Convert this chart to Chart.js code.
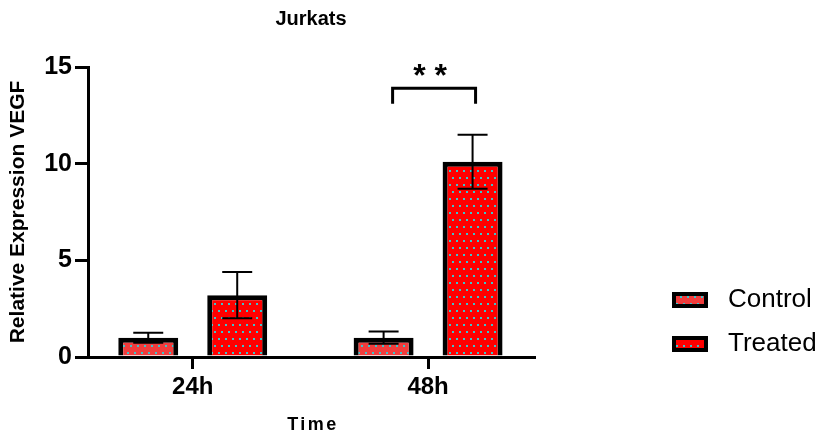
<!DOCTYPE html>
<html>
<head>
<meta charset="utf-8">
<script src="https://cdn.jsdelivr.net/npm/chart.js@4.4.0/dist/chart.umd.min.js"></script>
<style>
  body { margin: 0; background: #fff; }
  #wrap { width: 817px; height: 439px; }
</style>
</head>
<body>
<div id="wrap"><canvas id="vegfChart"></canvas></div>
<script>
// Values
const timeLabels = ['24h', '48h'];
const seriesNames = ['Control', 'Treated'];
const controlMeans = [1.0, 1.0];
const controlErrors = [0.26, 0.32];
const treatedMeans = [3.2, 10.1];
const treatedErrors = [1.2, 1.4];
const yTicks = [0, 5, 10, 15];
const sigIndex = 1;
const sigLabel = '* *';

const FONT = 'Arial, "Liberation Sans", sans-serif';
const canvas = document.getElementById('vegfChart');
const ctx = canvas.getContext('2d');

// red fill with small cyan dots (Prism style)
function dotPattern(base) {
    const tile = document.createElement('canvas');
    tile.width = 7;
    tile.height = 14;
    const c = tile.getContext('2d');
    c.fillStyle = base;
    c.fillRect(0, 0, 7, 14);
    c.fillStyle = '#3cc4cc';
    c.fillRect(1, 2, 2, 2);
    c.fillRect(4, 9, 2, 2);
    return ctx.createPattern(tile, 'repeat');
}

const controlFill = dotPattern('#f03c3c');
const treatedFill = dotPattern('#ff0000');

// mean +/- SD whiskers
const errorBars = {
    id: 'errorBars',
    afterDatasetsDraw(chart) {
        const c = chart.ctx;
        const y = chart.scales.y;
        const errs = [controlErrors, treatedErrors];
        c.save();
        c.strokeStyle = '#000';
        c.lineWidth = 2;
        chart.data.datasets.forEach((ds, di) => {
            chart.getDatasetMeta(di).data.forEach((bar, i) => {
                const mean = ds.data[i].y;
                const top = y.getPixelForValue(mean + errs[di][i]);
                const bot = y.getPixelForValue(mean - errs[di][i]);
                const half = bar.width / 4;
                c.beginPath();
                c.moveTo(bar.x, bot);
                c.lineTo(bar.x, top);
                c.moveTo(bar.x - half, top);
                c.lineTo(bar.x + half, top);
                c.moveTo(bar.x - half, bot);
                c.lineTo(bar.x + half, bot);
                c.stroke();
            });
        });
        c.restore();
    }
};

// significance bracket over the 48h pair
const sigBracket = {
    id: 'sigBracket',
    afterDraw(chart) {
        const c = chart.ctx;
        const y = chart.scales.y;
        const a = chart.getDatasetMeta(0).data[sigIndex];
        const b = chart.getDatasetMeta(1).data[sigIndex];
        const x1 = a.x + 9, x2 = b.x + 3;
        const yTop = y.getPixelForValue(13.9);
        const yLeg = y.getPixelForValue(13.1);
        c.save();
        c.strokeStyle = '#000';
        c.lineWidth = 3;
        c.beginPath();
        c.moveTo(x1, yLeg);
        c.lineTo(x1, yTop);
        c.lineTo(x2, yTop);
        c.lineTo(x2, yLeg);
        c.stroke();
        c.fillStyle = '#000';
        c.font = 'bold 32px ' + FONT;
        c.textAlign = 'center';
        c.textBaseline = 'alphabetic';
        c.fillText(sigLabel, (x1 + x2) / 2 - 4, yTop - 2);
        c.restore();
    }
};

// x title with the letter spacing of the original
const spacedXTitle = {
    id: 'spacedXTitle',
    afterDraw(chart) {
        const c = chart.ctx;
        const area = chart.chartArea;
        c.save();
        c.fillStyle = '#000';
        c.font = 'bold 18px ' + FONT;
        c.letterSpacing = '2.5px';
        c.textAlign = 'center';
        c.textBaseline = 'middle';
        c.fillText('Time', (area.left + area.right) / 2 + 2, 425);
        c.restore();
    }
};

// legend on the right, boxes filled like the bars
const boxLegend = {
    id: 'boxLegend',
    afterDraw(chart) {
        const c = chart.ctx;
        c.save();
        chart.data.datasets.forEach((ds, i) => {
            const cy = 300 + i * 44;
            c.fillStyle = ds.backgroundColor;
            c.fillRect(674, cy - 6, 32, 12);
            c.strokeStyle = '#000';
            c.lineWidth = 4;
            c.strokeRect(674, cy - 6, 32, 12);
            c.fillStyle = '#000';
            c.font = '26px ' + FONT;
            c.textAlign = 'left';
            c.textBaseline = 'middle';
            c.fillText(ds.label, 728, cy);
        });
        c.restore();
    }
};

const barStyle = {
    borderColor: '#000',
    borderWidth: 5,
    categoryPercentage: 0.756,
    barPercentage: 0.674
};

new Chart(ctx, {
    type: 'bar',
    data: {
        datasets: [
            Object.assign({
                label: seriesNames[0],
                data: controlMeans.map((v, i) => ({ x: i, y: v })),
                backgroundColor: controlFill
            }, barStyle),
            Object.assign({
                label: seriesNames[1],
                data: treatedMeans.map((v, i) => ({ x: i, y: v })),
                backgroundColor: treatedFill
            }, barStyle)
        ]
    },
    options: {
        responsive: true,
        maintainAspectRatio: false,
        animation: false,
        layout: { padding: { left: 0, right: 283, top: 0, bottom: 0 } },
        plugins: {
            legend: { display: false },
            tooltip: { enabled: false },
            title: {
                display: true,
                text: 'Jurkats',
                fullSize: false,
                color: '#000',
                font: { family: FONT, size: 20, weight: 'bold' },
                padding: { top: 7, bottom: 36 }
            }
        },
        scales: {
            x: {
                type: 'linear',
                min: -0.445,
                max: 1.45,
                offset: false,
                z: 1,
                afterBuildTicks: s => { s.ticks = timeLabels.map((_, i) => ({ value: i })); },
                afterFit: s => { s.height = 82; },
                ticks: {
                    callback: v => timeLabels[v],
                    color: '#000',
                    font: { family: FONT, size: 24, weight: 'bold' },
                    padding: 4,
                    maxRotation: 0
                },
                grid: { offset: false, drawOnChartArea: false, color: '#000', lineWidth: 3, tickLength: 12 },
                border: { color: '#000', width: 3 },
                title: { display: false }
            },
            y: {
                min: 0,
                max: 15,
                afterBuildTicks: s => { s.ticks = yTicks.map(v => ({ value: v })); },
                afterFit: s => { s.width = 88; },
                ticks: {
                    color: '#000',
                    font: { family: FONT, size: 25, weight: 'bold' },
                    padding: 3
                },
                grid: { drawOnChartArea: false, color: '#000', lineWidth: 3, tickLength: 13 },
                border: { color: '#000', width: 3 },
                title: {
                    display: true,
                    text: 'Relative Expression VEGF',
                    color: '#000',
                    font: { family: FONT, size: 21, weight: 'bold' },
                    padding: { top: 6, bottom: 0 }
                }
            }
        }
    },
    plugins: [errorBars, sigBracket, spacedXTitle, boxLegend]
});
</script>
</body>
</html>
